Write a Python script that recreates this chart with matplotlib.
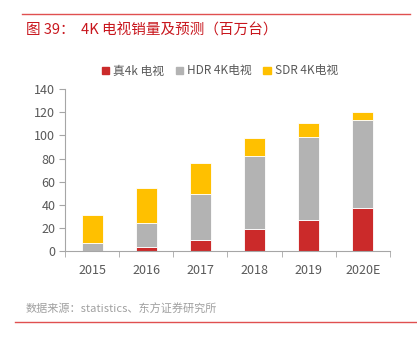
import numpy as np
import matplotlib.pyplot as plt
from matplotlib.lines import Line2D
from matplotlib.patches import Patch

plt.rcParams['font.family'] = ['Noto Sans CJK SC', 'DejaVu Sans']

years = ['2015', '2016', '2017', '2018', '2019', '2020E']
real4k = [0, 4, 10, 19, 27, 37]
hdr4k = [7, 20, 39, 63, 72, 76]
sdr4k = [24, 31, 27, 16, 12, 7]

red = '#CB2A2A'
gray = '#B3B3B3'
yellow = '#FFC000'
axc = '#A6A6A6'
txt = '#595959'

fig = plt.figure(figsize=(4.17, 3.38), dpi=100)
ax = fig.add_axes([0.156, 0.257, 0.779, 0.479])

x = np.arange(len(years))
w = 0.39
b1 = np.array(real4k)
b2 = b1 + np.array(hdr4k)
ax.bar(x, real4k, w, color=red, edgecolor='white', linewidth=0.6)
ax.bar(x, hdr4k, w, bottom=b1, color=gray, edgecolor='white', linewidth=0.6)
ax.bar(x, sdr4k, w, bottom=b2, color=yellow, edgecolor='white', linewidth=0.6)

ax.set_xlim(-0.5, len(years) - 0.5)
ax.set_ylim(0, 140)
ax.set_yticks(range(0, 141, 20))
ax.set_xticks(x)
ax.set_xticklabels(years)
ax.set_xticks(np.arange(-0.5, len(years), 1), minor=True)
ax.tick_params(axis='x', which='major', length=0, pad=9, labelsize=9, colors=txt)
ax.tick_params(axis='x', which='minor', length=4, color=axc, direction='out')
ax.tick_params(axis='y', length=4, color=axc, labelsize=9, labelcolor=txt, pad=3)
for s in ['top', 'right']:
    ax.spines[s].set_visible(False)
ax.spines['left'].set_color(axc)
ax.spines['bottom'].set_color(axc)

handles = [Patch(color=red), Patch(color=gray), Patch(color=yellow)]
fig.legend(handles, ['真4k 电视', 'HDR 4K电视', 'SDR 4K电视'], loc='center',
           bbox_to_anchor=(0.527, 0.79), ncol=3, frameon=False, fontsize=8.5,
           handlelength=0.6, handleheight=0.6, handletextpad=0.35,
           columnspacing=1.0, labelcolor=txt)

fig.add_artist(Line2D([0.053, 0.983], [0.959, 0.959], color='#E05050', lw=1))
fig.text(0.062, 0.91, '图 39：  4K 电视销量及预测（百万台）', color='#C8161D',
         fontsize=10.5, fontweight='medium', va='center', ha='left')

fig.text(0.062, 0.086, '数据来源：statistics、东方证券研究所', color='#A0A0A0',
         fontsize=8, va='center', ha='left')
fig.add_artist(Line2D([0.036, 0.998], [0.047, 0.047], color='#E05050', lw=1))

fig.savefig('out.png', dpi=100)
